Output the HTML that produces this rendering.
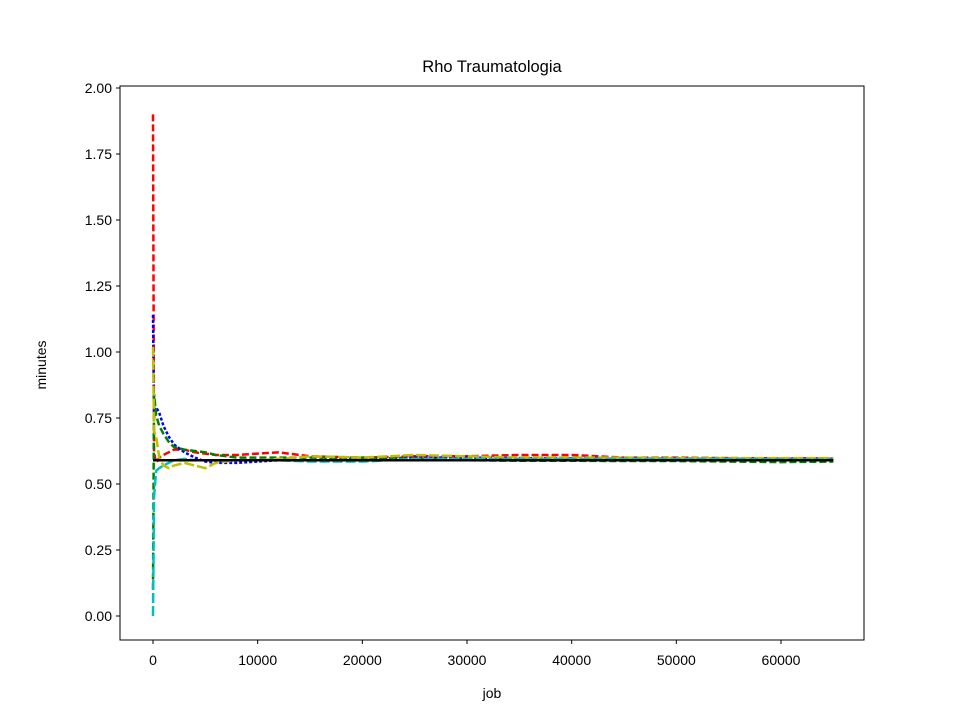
<!DOCTYPE html>
<html><head><meta charset="utf-8"><style>
body{margin:0;background:#fff}
svg text{font-family:"Liberation Sans","DejaVu Sans",sans-serif;fill:#000}
</style></head><body>
<svg id="chart" width="960" height="720" xmlns="http://www.w3.org/2000/svg">
<rect width="960" height="720" fill="#fff"/>
<text x="492" y="72" text-anchor="middle" font-size="16.5">Rho Traumatologia</text>
<text x="492" y="698" text-anchor="middle" font-size="14">job</text>
<text x="46" y="365" text-anchor="middle" font-size="14" transform="rotate(-90 46 365)">minutes</text>
<g id="series"></g>
<g id="axes"></g>
<rect x="120" y="86" width="744" height="554" fill="none" stroke="#000" stroke-width="1"/>
</svg>
<script>
const jobs=[0,100,300,600,1000,1500,2000,3000,4000,5000,6000,8000,10000,12000,15000,20000,25000,30000,35000,40000,45000,50000,55000,60000,65000];
const red=[1.9,0.62,0.58,0.6,0.61,0.62,0.63,0.63,0.62,0.615,0.61,0.61,0.615,0.62,0.605,0.6,0.605,0.605,0.61,0.61,0.6,0.6,0.598,0.597,0.597];
const blue=[1.14,0.75,0.79,0.77,0.72,0.68,0.65,0.62,0.6,0.585,0.58,0.58,0.585,0.59,0.59,0.595,0.6,0.6,0.598,0.597,0.596,0.596,0.595,0.595,0.595];
const green=[0.1,0.84,0.76,0.72,0.69,0.66,0.64,0.63,0.625,0.62,0.61,0.6,0.6,0.6,0.6,0.6,0.595,0.59,0.588,0.588,0.587,0.587,0.585,0.583,0.585];
const yellow=[1.02,0.7,0.68,0.6,0.57,0.56,0.57,0.58,0.57,0.56,0.58,0.59,0.59,0.595,0.605,0.6,0.61,0.605,0.6,0.6,0.6,0.598,0.598,0.598,0.598];
const cyan=[0.0,0.45,0.55,0.56,0.57,0.58,0.59,0.595,0.59,0.59,0.59,0.59,0.59,0.59,0.585,0.585,0.595,0.595,0.595,0.595,0.595,0.595,0.595,0.593,0.593];
const meanX=[0,65000];
const meanY=[0.59,0.59];
const xTicks=[0,10000,20000,30000,40000,50000,60000];
const yTicks=["0.00","0.25","0.50","0.75","1.00","1.25","1.50","1.75","2.00"];

const NS="http://www.w3.org/2000/svg";
function sx(v){return 153+v*(628/60000);}
function sy(v){return 616-v*264;}
const sg=document.getElementById('series'), ag=document.getElementById('axes');
function line(xs,ys,color,dash,name,w){
  const p=document.createElementNS(NS,'polyline');
  p.setAttribute('points',xs.map((x,i)=>sx(x)+','+sy(ys[i])).join(' '));
  p.setAttribute('fill','none');p.setAttribute('stroke',color);p.setAttribute('stroke-width',w);
  if(dash)p.setAttribute('stroke-dasharray',dash);
  
  
  sg.appendChild(p);
}
line(jobs,red,'#ff0000','7,3','series-red',2.5);
line(jobs,blue,'#0000ff','3,2','series-blue',2.5);
line(jobs,green,'#008000','7,3','series-green',2.5);
line(jobs,yellow,'#bfbf00','10,3','series-yellow',2.5);
line(jobs,cyan,'#00bfbf','10,3','series-cyan',2.5);
line(meanX,meanY,'#000','', 'mean-line',2.5);
xTicks.forEach(v=>{
  const t=document.createElementNS(NS,'line');
  t.setAttribute('x1',sx(v));t.setAttribute('x2',sx(v));t.setAttribute('y1',640);t.setAttribute('y2',644);t.setAttribute('stroke','#000');
  
  
  ag.appendChild(t);
  const l=document.createElementNS(NS,'text');
  l.setAttribute('x',sx(v));l.setAttribute('y',665);l.setAttribute('text-anchor','middle');l.setAttribute('font-size','14');
  l.textContent=String(v);
  
  
  ag.appendChild(l);
});
yTicks.forEach(s=>{
  const v=parseFloat(s);
  const t=document.createElementNS(NS,'line');
  t.setAttribute('x1',116);t.setAttribute('x2',120);t.setAttribute('y1',sy(v));t.setAttribute('y2',sy(v));t.setAttribute('stroke','#000');
  
  
  ag.appendChild(t);
  const l=document.createElementNS(NS,'text');
  l.setAttribute('x',112);l.setAttribute('y',sy(v)+5);l.setAttribute('text-anchor','end');l.setAttribute('font-size','14');
  l.textContent=s;
  
  
  ag.appendChild(l);
});
</script>
</body></html>
